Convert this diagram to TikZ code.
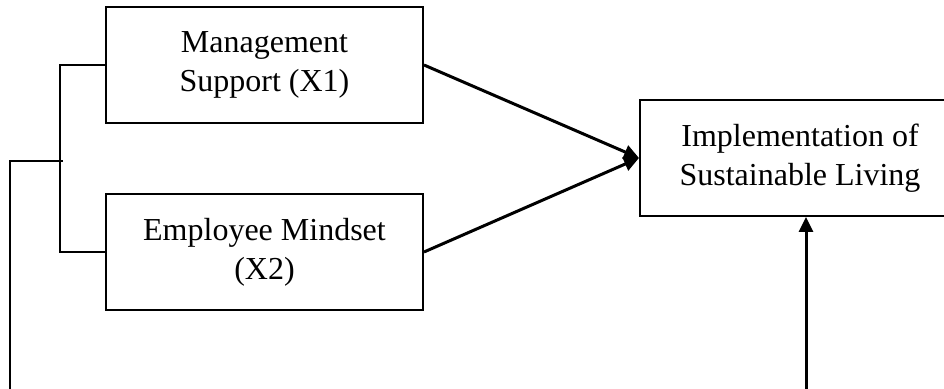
\documentclass[tikz,border=0pt]{standalone}
\usepackage{fontspec}
\setmainfont{Liberation Serif}
\usetikzlibrary{calc, positioning, arrows.meta}
\tikzset{
	line width = 1pt,
	font = \fontsize{16}{19.5}\selectfont,
	varbox/.style={
		draw,
		rectangle,
		line width=1pt,
		inner sep=0pt,
		align=center,
		minimum width=158.5pt,
		minimum height=58pt
	},
	bracket/.style={
		line width=1pt
	},
	link/.style={
		-{Triangle[length=7.5pt,width=7pt]},
		line width=1.5pt
	}
}

\begin{document}
\begin{tikzpicture}[x=0.5pt, y=-0.5pt]
		\useasboundingbox (0,0) rectangle (944,389);
		\node[varbox] at (264.5,65) (ms) {Management\\Support (X1)};
		\node[varbox] at (264.5,252) (em) {Employee Mindset\\(X2)};
		\node[varbox, minimum width=160pt] at (800,158) (isl) {Implementation of\\Sustainable Living};
		\coordinate (split) at (63,161);
		\coordinate (src) at (10,161);
		\coordinate (srcend) at (10,394);
		\coordinate (tgtend) at (806,394);
		\draw[bracket] (ms.west) -- ++(-45,0) |- (em.west);
		\draw[bracket] (split) -- (src) -- (srcend);
		\draw[link] (ms.east) -- (isl.west);
		\draw[link] (em.east) -- (isl.west);
		\draw[link] (tgtend) -- (tgtend |- isl.south);
	\end{tikzpicture}
\end{document}
